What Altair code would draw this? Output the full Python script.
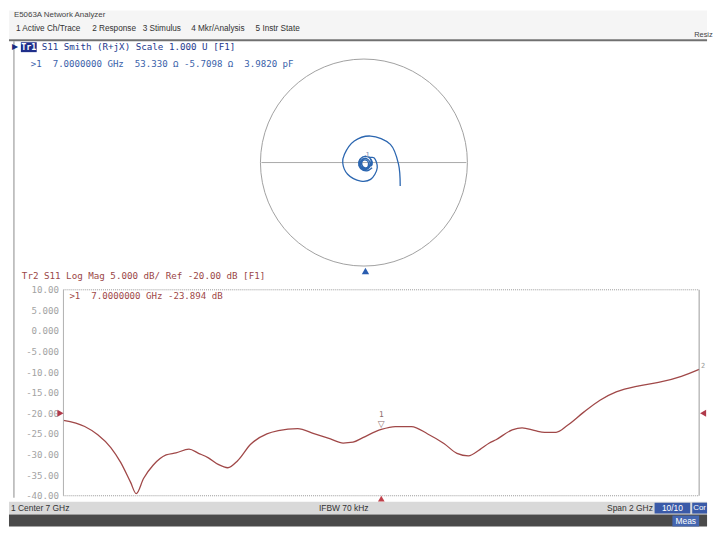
import altair as alt
import pandas as pd

# ---------------- data ----------------
freq_ghz = [6.000, 6.067, 6.108, 6.149, 6.180, 6.211, 6.229, 6.252, 6.282, 6.323,
            6.354, 6.395, 6.425, 6.456, 6.487, 6.517, 6.548, 6.589, 6.640, 6.676,
            6.737, 6.788, 6.840, 6.880, 6.911, 6.942, 7.000, 7.044, 7.095, 7.146,
            7.197, 7.238, 7.274, 7.310, 7.340, 7.361, 7.412, 7.443, 7.484, 7.514,
            7.550, 7.586, 7.637, 7.688, 7.739, 7.811, 7.872, 7.944, 8.000]
s11_db = [-21.7, -23.2, -25.2, -28.3, -31.9, -36.7, -39.5, -35.8, -32.6, -30.1,
          -29.6, -28.7, -29.7, -30.8, -32.4, -33.2, -31.5, -27.5, -25.0, -24.2,
          -23.7, -24.9, -26.2, -27.2, -27.0, -25.9, -23.9, -23.2, -23.2, -25.0,
          -27.3, -29.7, -30.3, -28.8, -27.2, -26.4, -24.0, -23.5, -24.2, -24.6,
          -24.6, -22.9, -19.7, -16.8, -14.8, -13.3, -12.5, -11.0, -9.3]

marker_freq = [7.0]
marker_db = [-23.894]
ref_db = [-20.0]

smith_re = [0.08, 0.03, -0.03, -0.05, -0.03, 0.02, 0.07, 0.08,
            0.05, 0.01, -0.02, -0.01, 0.03, 0.045,
            0.03, -0.01, -0.035, -0.01, 0.04, 0.06, 0.035,
            -0.01, -0.04, -0.03, 0.02, 0.06, 0.07, 0.04, -0.01, -0.05, -0.04, 0.01, 0.06,
            0.098, 0.130, 0.065, -0.031, -0.159, -0.207, -0.190, -0.094, 0.065, 0.258, 0.338, 0.354]
smith_im = [-0.05, -0.08, -0.06, -0.01, 0.04, 0.06, 0.03, -0.02,
            -0.04, -0.05, -0.02, 0.02, 0.02, -0.01,
            -0.05, -0.05, -0.01, 0.035, 0.03, -0.01, -0.053,
            -0.06, -0.02, 0.04, 0.06, 0.04, -0.01, -0.06, -0.07, -0.03, 0.03, 0.06, 0.05,
            0.046, -0.050, -0.162, -0.178, -0.113, -0.002, 0.079, 0.207, 0.255, 0.175, -0.017, -0.226]
smith_marker_re = [0.035]
smith_marker_im = [-0.053]

y_ticks = [10, 5, 0, -5, -10, -15, -20, -25, -30, -35, -40]
y_tick_labels = ["10.00", "5.000", "0.000", "-5.000", "-10.00", "-15.00",
                 "-20.00", "-25.00", "-30.00", "-35.00", "-40.00"]

NB = "\u00a0"
title_text = "E5063A Network Analyzer"
menu_items = ["1 Active Ch/Trace", "2 Response", "3 Stimulus", "4 Mkr/Analysis", "5 Instr State"]
tr1_text = "S11 Smith (R+jX) Scale 1.000 U [F1]"
tr1_readout = f">1{NB}{NB}7.0000000 GHz{NB}{NB}53.330 \u03a9 -5.7098 \u03a9{NB}{NB}3.9820 pF"
tr2_text = "Tr2 S11 Log Mag 5.000 dB/ Ref -20.00 dB [F1]"
tr2_readout = f">1{NB}{NB}7.0000000 GHz -23.894 dB"
status_texts = ["1 Center 7 GHz", "IFBW 70 kHz", "Span 2 GHz"]

# ---------------- styling / layout ----------------
MONO = "DejaVu Sans Mono"
SANS = "Liberation Sans"
W = 642
H_SMITH = 227
H_LOG = 208
TRACE_RED = "#a04848"
SMITH_BLUE = "#2b66b0"

dummy = pd.DataFrame({"k": [0]})


def txt(s, x, y, color="#333333", size=9.2, font=MONO, align="left", weight="normal"):
    return alt.Chart(dummy).mark_text(
        text=s, color=color, fontSize=size, font=font, align=align,
        baseline="middle", fontWeight=weight
    ).encode(x=alt.value(x), y=alt.value(y))


def box(x0, x1, y0, y1, color):
    return alt.Chart(dummy).mark_rect(color=color).encode(
        x=alt.value(x0), x2=alt.value(x1), y=alt.value(y0), y2=alt.value(y1))


def hrule(x0, x1, y, color, w=1.0, dash=None):
    kw = {"strokeDash": dash} if dash else {}
    return alt.Chart(dummy).mark_rule(color=color, strokeWidth=w, **kw).encode(
        x=alt.value(x0), x2=alt.value(x1), y=alt.value(y))


def vrule(x, y0, y1, color, w=1.0, dash=None):
    kw = {"strokeDash": dash} if dash else {}
    return alt.Chart(dummy).mark_rule(color=color, strokeWidth=w, **kw).encode(
        x=alt.value(x), y=alt.value(y0), y2=alt.value(y1))


# ---------------- Smith panel ----------------
sx = alt.Scale(domain=[-2.932, 3.271], nice=False, zero=False)
sy = alt.Scale(domain=[-1.081, 1.081], nice=False, zero=False)

smith_df = pd.DataFrame({"re": smith_re, "im": smith_im, "i": list(range(len(smith_re)))})
smk_df = pd.DataFrame({"re": smith_marker_re, "im": smith_marker_im})

spiral = alt.Chart(smith_df).mark_line(
    color=SMITH_BLUE, strokeWidth=1.3, interpolate="catmull-rom"
).encode(
    x=alt.X("re:Q", scale=sx, axis=None),
    y=alt.Y("im:Q", scale=sy, axis=None),
    order="i:Q",
)
unit_circle = alt.Chart(dummy).mark_point(
    shape="circle", size=209 * 209, filled=False, color="#a0a0a0", strokeWidth=1, opacity=1
).encode(x=alt.XDatum(0, scale=sx, axis=None), y=alt.YDatum(0, scale=sy, axis=None))
real_axis = alt.Chart(dummy).mark_rule(color="#a8a8a8", strokeWidth=1).encode(
    x=alt.XDatum(-1, scale=sx, axis=None), x2=alt.X2Datum(1),
    y=alt.YDatum(0, scale=sy, axis=None))
smith_mark_lbl = alt.Chart(smk_df).mark_text(
    text="1", fontSize=7, color="#7a8cb0", font=MONO, dy=-13
).encode(x=alt.X("re:Q", scale=sx, axis=None), y=alt.Y("im:Q", scale=sy, axis=None))
smith_tri = alt.Chart(dummy).mark_point(
    shape="triangle-up", filled=True, size=55, color="#2a5db0", opacity=1
).encode(x=alt.value(305), y=alt.value(223))

menu_x = [-48, 29, 80, 129, 194]
top_decor = [
    box(-55, 650, -40, -11, "#f5f5f5"),
    txt(title_text, -50, -35, color="#444444", size=8, font=SANS),
] + [txt(m, mx, -21, color="#333333", size=8.3, font=SANS) for m, mx in zip(menu_items, menu_x)] + [
    txt("Resiz", 637, -15, color="#444444", size=7.5, font=SANS),
    hrule(-55, 650, -10, "#707070", w=2),
    vrule(-50, -9, 452, "#8a8a8a"),
    txt("\u25b6", -49, -3, color="#1a2b80", size=8, font="DejaVu Sans", align="center"),
    box(-43, -27, -8, 2, "#1f2f8a"),
    txt("Tr1", -35, -3, color="white", size=8.5, align="center", weight="bold"),
    txt(tr1_text, -22, -3, color="#253a8e", size=9.3),
    txt(tr1_readout, -33, 14, color="#3a62aa", size=9.2),
]

smith = alt.layer(
    *top_decor, unit_circle, real_axis, spiral, smith_mark_lbl, smith_tri
).properties(width=W, height=H_SMITH)

# ---------------- Log Mag panel ----------------
xs = alt.Scale(domain=[6, 8], nice=False, zero=False)
ys = alt.Scale(domain=[-40, 10], nice=False, zero=False)

label_expr = " : ".join(
    f"datum.value == {v} ? '{l}'" for v, l in zip(y_ticks, y_tick_labels)) + " : ''"
y_axis = alt.Axis(
    values=y_ticks, labelExpr=label_expr, ticks=False, domain=False, grid=False,
    labelFont=MONO, labelFontSize=9.2, labelColor="#a3a3a3", labelPadding=5,
    labelOverlap=False, labelFlush=False, title=None)

log_df = pd.DataFrame({"f": freq_ghz, "db": s11_db})
mk_df = pd.DataFrame({"f": marker_freq, "db": marker_db})
ref_df = pd.DataFrame({"db": ref_db})

trace = alt.Chart(log_df).mark_line(
    color=TRACE_RED, strokeWidth=1.3, interpolate="monotone"
).encode(
    x=alt.X("f:Q", scale=xs, axis=None),
    y=alt.Y("db:Q", scale=ys, axis=y_axis),
)
mk_tri = alt.Chart(mk_df).mark_text(
    text="\u25bd", fontSize=9, color="#8a6a6a", font="DejaVu Sans", dy=-5
).encode(x=alt.X("f:Q", scale=xs, axis=None), y=alt.Y("db:Q", scale=ys, axis=y_axis))
mk_lbl = alt.Chart(mk_df).mark_text(
    text="1", fontSize=8, color="#8a6a6a", font=MONO, dy=-15
).encode(x=alt.X("f:Q", scale=xs, axis=None), y=alt.Y("db:Q", scale=ys, axis=y_axis))
ref_left = alt.Chart(ref_df).mark_point(
    shape="triangle-right", filled=True, size=50, color="#b03a4a", opacity=1
).encode(x=alt.value(-3), y=alt.Y("db:Q", scale=ys, axis=y_axis))
ref_right = alt.Chart(ref_df).mark_point(
    shape="triangle-left", filled=True, size=50, color="#b03a4a", opacity=1
).encode(x=alt.value(646), y=alt.Y("db:Q", scale=ys, axis=y_axis))
stim_tri = alt.Chart(mk_df).mark_point(
    shape="triangle-up", filled=True, size=45, color="#c0404a", opacity=1
).encode(x=alt.X("f:Q", scale=xs, axis=None), y=alt.value(211))
end_lbl = alt.Chart(pd.DataFrame({"f": [freq_ghz[-1]], "db": [s11_db[-1]]})).mark_text(
    text="2", fontSize=7, color="#999999", font=MONO, align="left", dx=2, dy=-3
).encode(x=alt.X("f:Q", scale=xs, axis=None), y=alt.Y("db:Q", scale=ys, axis=y_axis))

bottom_decor = [
    hrule(0, W, 0, "#9a9a9a", dash=[1, 1]),
    hrule(0, W, H_LOG, "#9a9a9a", dash=[1, 1]),
    vrule(0, 0, H_LOG, "#b0b0b0"),
    vrule(W, 0, H_LOG, "#9a9a9a"),
    txt(tr2_text, -42, -14, color="#9b4747", size=9.3),
    txt(tr2_readout, 6, 6, color=TRACE_RED, size=9.2),
    box(-55, 650, 214, 227, "#d9d9d9"),
    txt(status_texts[0], -53, 220.5, color="#333333", size=8.5, font=SANS),
    txt(status_texts[1], 258, 220.5, color="#333333", size=8.5, font=SANS),
    txt(status_texts[2], 549, 220.5, color="#333333", size=8.5, font=SANS),
    box(597, 633, 215, 226, "#3a5aa8"),
    txt("10/10", 615, 220.5, color="white", size=8.5, font=SANS, align="center"),
    box(635, 650, 215, 226, "#3a5aa8"),
    txt("Cor", 642.5, 220.5, color="white", size=8, font=SANS, align="center"),
    box(-55, 650, 227, 239, "#4a4a4a"),
    box(615, 642, 228, 239, "#4466b0"),
    txt("Meas", 628.5, 233.5, color="white", size=8.5, font=SANS, align="center"),
]

logmag = alt.layer(
    trace, *bottom_decor, mk_tri, mk_lbl, ref_left, ref_right, stim_tri, end_lbl
).properties(width=W, height=H_LOG)

chart = alt.vconcat(smith, logmag, spacing=15, bounds="flush").properties(
    padding=0, background="white"
).configure_view(stroke=None)

chart.save("out.html", embed_options={"renderer": "svg", "actions": False})
